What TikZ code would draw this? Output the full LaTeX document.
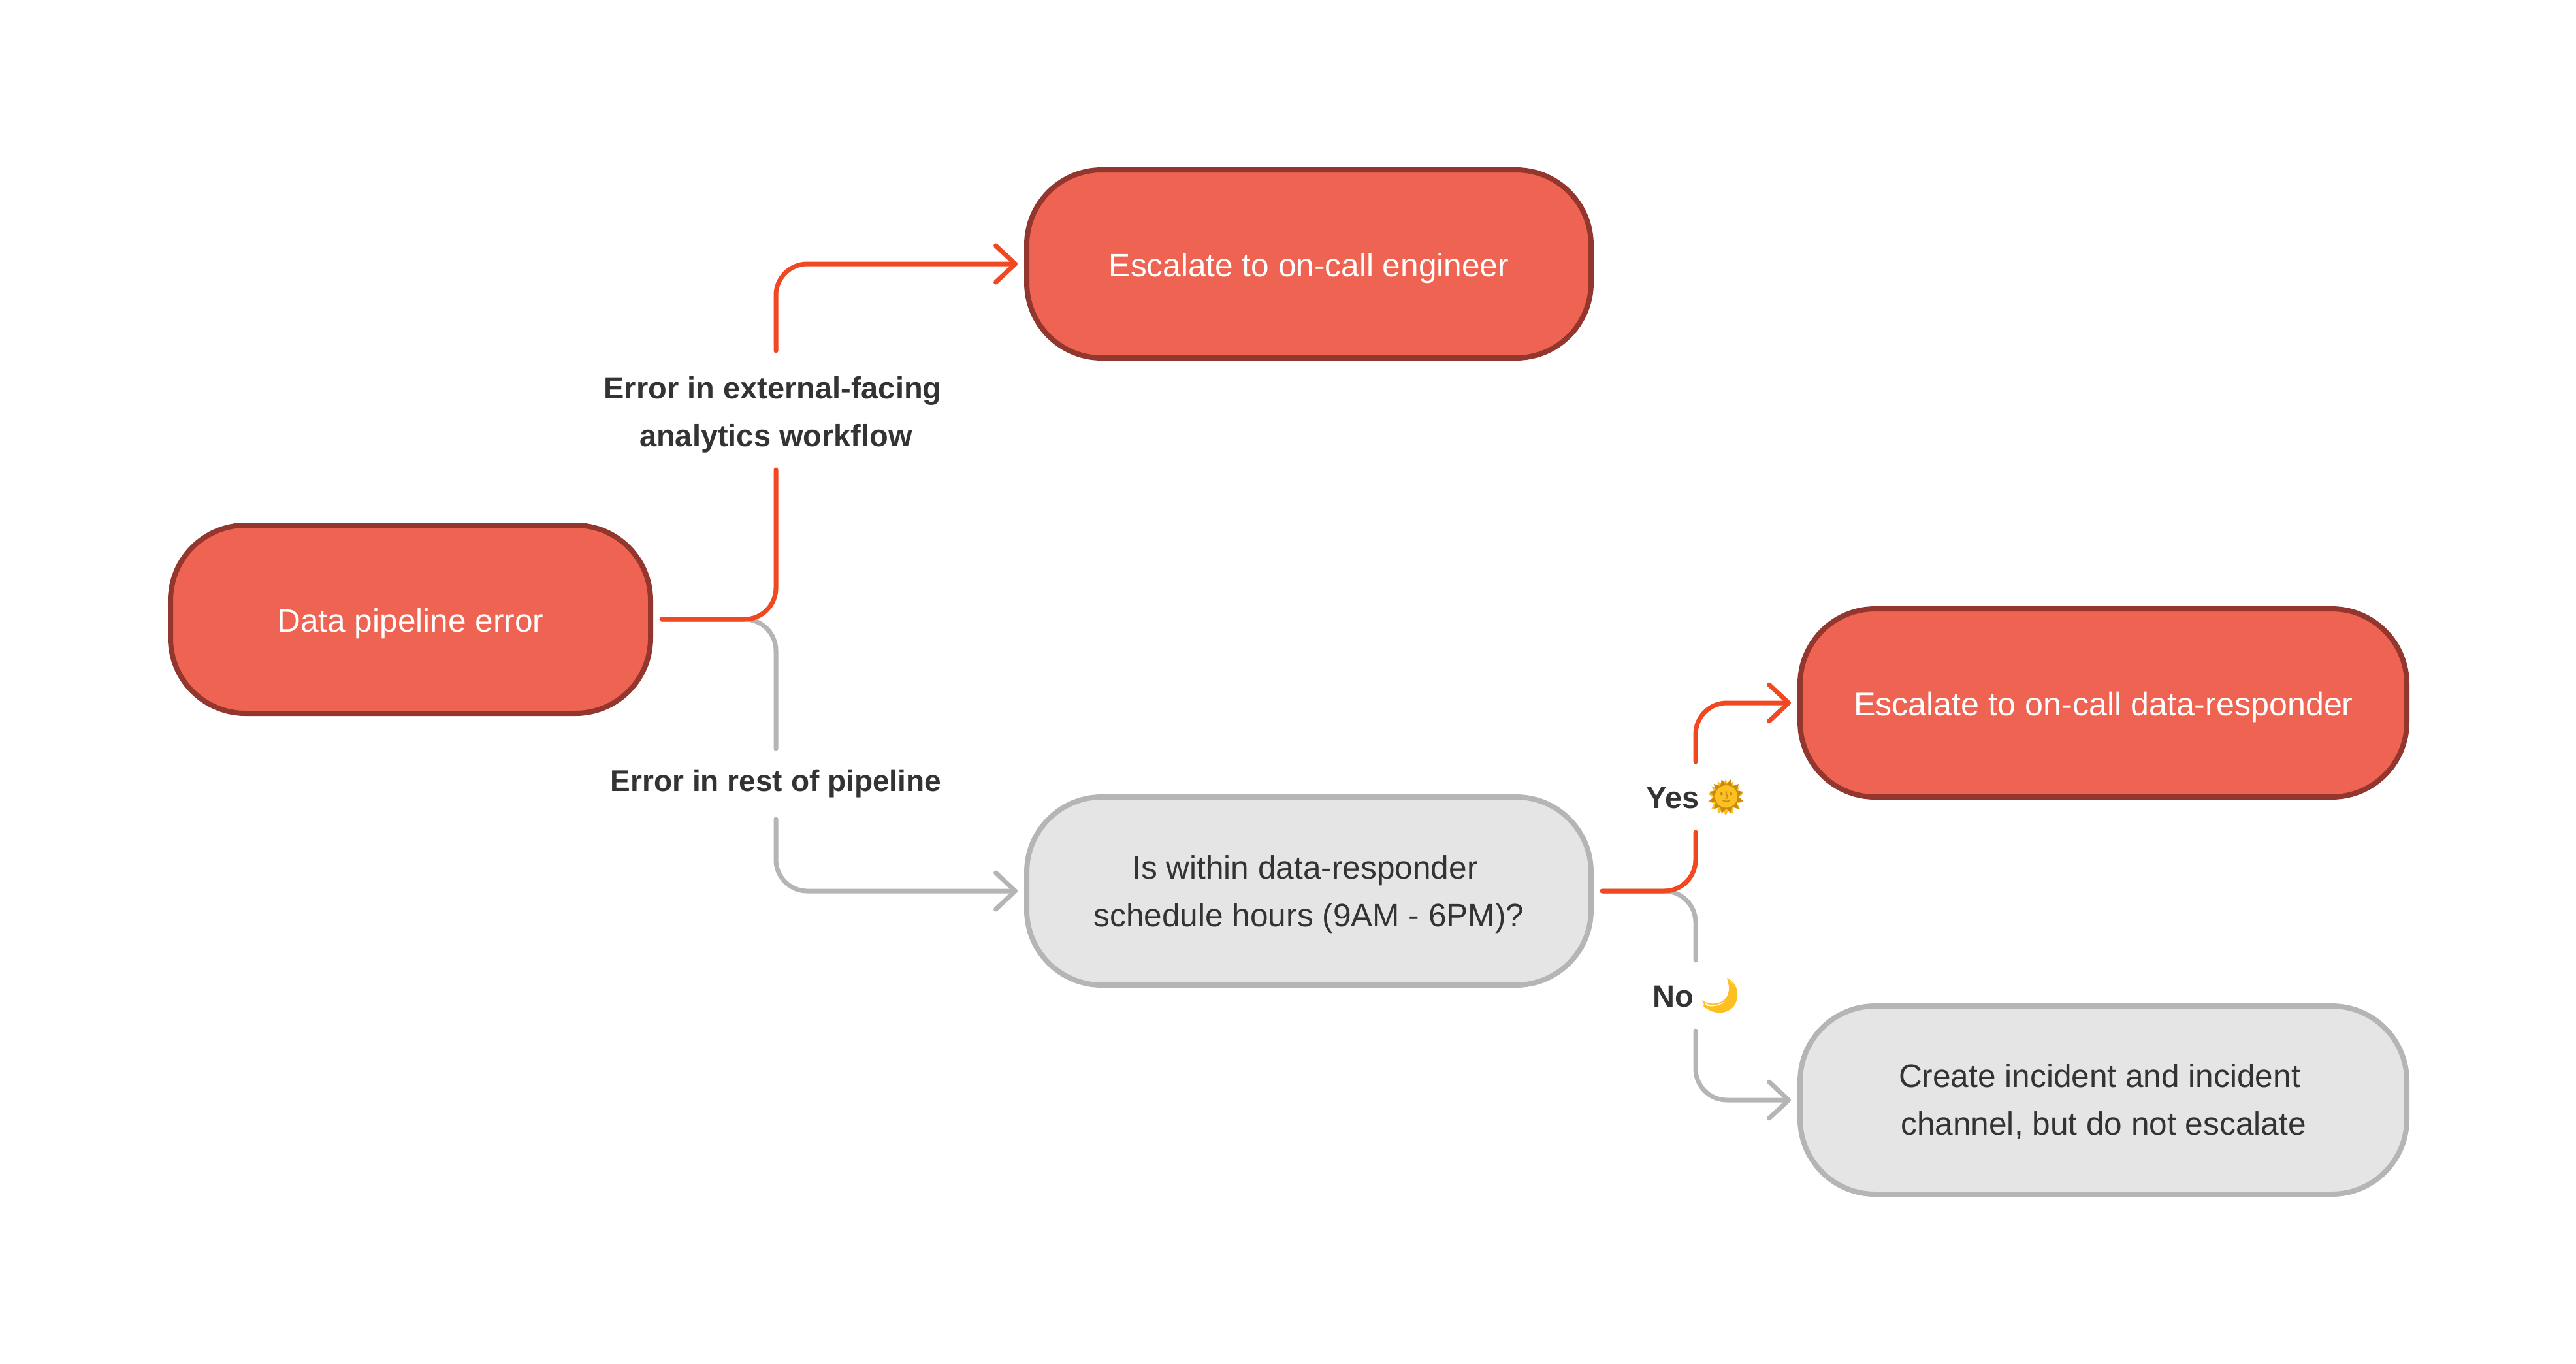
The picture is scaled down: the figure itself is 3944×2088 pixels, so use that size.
\documentclass[tikz,border=0pt]{standalone}
\usepackage{fontspec}
\setmainfont{Liberation Sans}
\newfontfamily\emojifont{Noto Emoji}
\usetikzlibrary{arrows.meta,shapes.geometric}
\definecolor{redfill}{HTML}{EE6352}
\definecolor{redline}{HTML}{93372E}
\definecolor{greyfill}{HTML}{E5E5E5}
\definecolor{greyline}{HTML}{B5B5B5}
\definecolor{arrowred}{HTML}{F24822}
\definecolor{inkdark}{HTML}{333333}
\definecolor{amber}{HTML}{FDC022}
\definecolor{amberdeep}{HTML}{C98A10}
\newcommand{\emo}[2]{{\fontsize{52}{52}\selectfont\emojifont\color{#1}#2}}
\newcommand{\topnudge}[1]{\rule{0pt}{#1}}
\tikzset{
  basebox/.style={rounded corners=115pt,line width=8pt,minimum height=288pt,outer sep=0pt,inner sep=0pt,align=center,font=\fontsize{49.6}{73}\selectfont},
  redbox/.style={basebox,draw=redline,fill=redfill,text=white,text height=38pt,text depth=0pt},
  greybox/.style={basebox,draw=greyline,fill=greyfill,text=inkdark},
  lbl/.style={inner sep=0pt,outer sep=0pt,align=center,text=inkdark,font=\fontsize{47}{73}\selectfont\bfseries},
  conn/.style={line width=7pt,line cap=round,rounded corners=48pt},
  tipped/.style={-{Straight Barb[length=30pt,width=56pt,line cap=round,round]},shorten >=14pt},
  startgap/.style={shorten <=17pt},
}
\begin{document}
\begin{tikzpicture}[x=1pt,y=-1pt]
\useasboundingbox (0,0) rectangle (3944,2088);
\node[redbox,minimum width=735pt] (data) at (628.5,948) {Data pipeline error};
\node[redbox,minimum width=864pt] (oncall) at (2004,404) {Escalate to on-call engineer};
\node[greybox,minimum width=864pt] (within) at (2004,1364) {\topnudge{46pt}Is within data-responder\hspace*{12pt}\\schedule hours (9AM - 6PM)?};
\node[redbox,minimum width=929pt,font=\fontsize{50.2}{73}\selectfont] (responder) at (3220.5,1076) {Escalate to on-call data-responder};
\node[greybox,minimum width=929pt] (incident) at (3220.5,1684) {\topnudge{41pt}Create incident and incident\hspace*{12pt}\\channel, but do not escalate};

\fill[amber] (2645,1500) .. controls (2662,1510) and (2664,1532) .. (2652,1543) .. controls (2638,1555) and (2618,1551) .. (2606,1538) .. controls (2626,1544) and (2640,1538) .. (2645,1526) .. controls (2648,1518) and (2648,1508) .. (2645,1500) -- cycle;
\node[star,star points=14,star point ratio=1.45,fill=amber,minimum size=56pt,inner sep=0pt] (sunfill) at (2642,1221) {};

\node[lbl,minimum height=182pt] (ext) at (1188,628) {\topnudge{48pt}Error in external-facing\hspace*{10pt}\\analytics workflow};
\node[lbl,minimum height=108pt,font=\fontsize{46}{73}\selectfont\bfseries] (rest) at (1188,1200) {Error in rest of pipeline};
\node[lbl,minimum height=108pt] (yes) at (2596,1220) {\hspace*{5pt}Yes\hspace{-5pt} \emo{amberdeep}{🌞}};
\node[lbl,minimum height=108pt] (no) at (2596,1524) {\hspace*{5pt}No\hspace{-5pt} \emo{amber}{🌙}};

\draw[conn,greyline,startgap] (data.east) -| (rest.north);
\draw[conn,greyline,tipped] (rest.south) |- (within.west);
\draw[conn,arrowred,startgap] (data.east) -| (ext.south);
\draw[conn,arrowred,tipped] (ext.north) |- (oncall.west);
\draw[conn,greyline,startgap] (within.east) -| (no.north);
\draw[conn,greyline,tipped] (no.south) |- (incident.west);
\draw[conn,arrowred,startgap] (within.east) -| (yes.south);
\draw[conn,arrowred,tipped] (yes.north) |- (responder.west);
\end{tikzpicture}
\end{document}
